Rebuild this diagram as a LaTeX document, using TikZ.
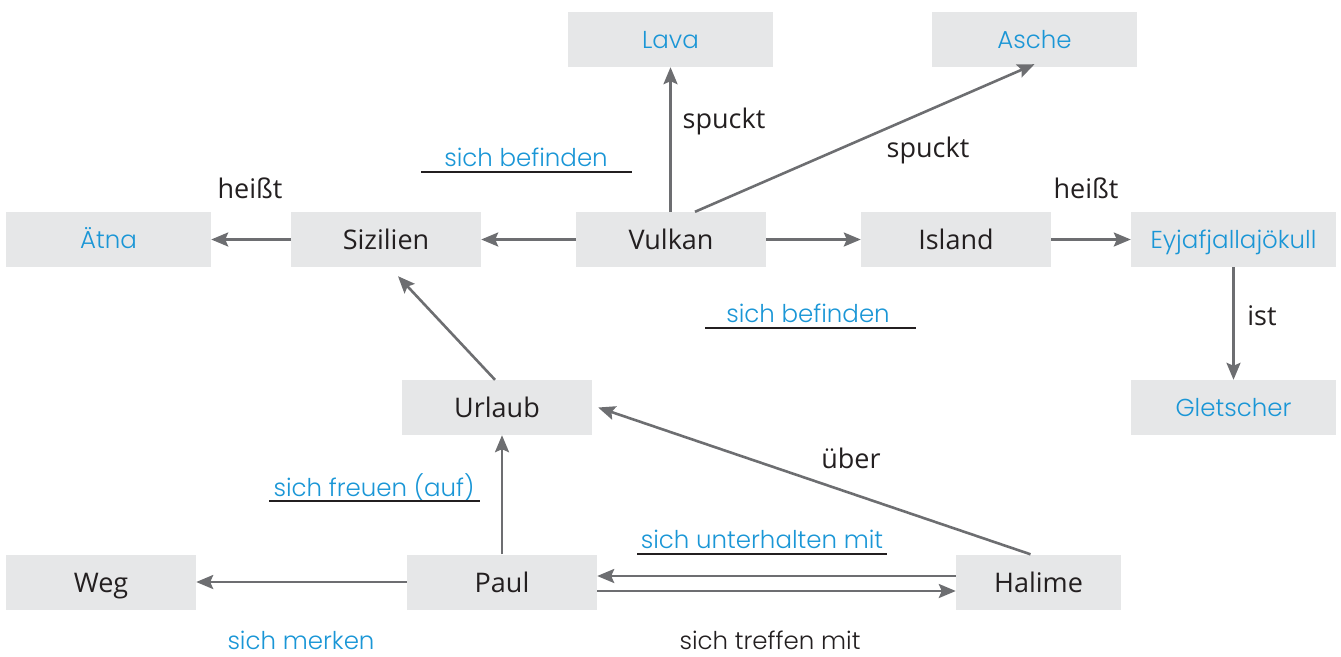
\documentclass[tikz,border=0pt]{standalone}
\usepackage{fontspec}
\setmainfont{Open Sans}
\newfontfamily\hand{Poppins}[UprightFont=* Light]
\usetikzlibrary{arrows.meta,calc}
\definecolor{boxgrey}{HTML}{E6E7E8}
\definecolor{arrgrey}{HTML}{6D6E71}
\definecolor{txtblack}{HTML}{231F20}
\definecolor{hblue}{HTML}{1A96D6}
\tikzset{
  box/.style={fill=boxgrey, inner sep=0pt, minimum height=55pt, minimum width=190pt, text height=20.5pt, text depth=0pt, text=txtblack, font=\fontsize{27}{31}\selectfont},
  bluebox/.style={box, minimum width=205pt, text height=17.5pt, text=hblue, font=\hand\fontsize{24.5}{29}\selectfont},
  conn/.style={draw=arrgrey, line width=2.6pt, -{Stealth[length=17pt,width=14pt,inset=3pt]}},
  lbl/.style={inner sep=0pt, text=txtblack, font=\fontsize{27}{31}\selectfont},
  bluelbl/.style={inner sep=0pt, text=hblue, font=\hand\fontsize{24.5}{29}\selectfont},
  handlbl/.style={inner sep=0pt, text=txtblack, font=\hand\fontsize{24.5}{29}\selectfont},
  uline/.style={draw=txtblack, line width=1.3pt}
}
\begin{document}
\begin{tikzpicture}[x=1pt,y=-1pt]
\useasboundingbox (0,0) rectangle (1341,656);
% boxes
\node[bluebox] (lava) at (670.5,39.5) {Lava};
\node[bluebox] (asche) at (1034.5,39.5) {Asche};
\node[bluebox] (aetna) at (108.5,239.5) {Ätna};
\node[box] (sizilien) at (386,239.5) {Sizilien};
\node[box] (vulkan) at (671,239.5) {Vulkan};
\node[box] (island) at (956,239.5) {Island};
\node[bluebox] (eyja) at (1233.5,239.5) {Eyjafjallajökull};
\node[bluebox] (gletscher) at (1233.5,407.5) {Gletscher};
\node[box] (urlaub) at (497,407.5) {Urlaub};
\node[box] (weg) at (101,582) {Weg};
\node[box] (paul) at (502,582) {Paul};
\node[box, minimum width=165pt] (halime) at (1038.5,582) {Halime};
% connectors
\draw[conn] (sizilien.west) -- (aetna.east);
\draw[conn] (vulkan.west) -- (sizilien.east);
\draw[conn] (vulkan.north -| lava.south) -- (lava.south);
\draw[conn] ($(vulkan.north)+(24,0)$) -- ($(asche.south)+(0,-3)$);
\draw[conn] (vulkan.east) -- (island.west);
\draw[conn] (island.east) -- (eyja.west);
\draw[conn] (eyja.south) -- (gletscher.north);
\draw[conn] ($(urlaub.north)+(-2,0)$) -- ($(sizilien.south)+(12,9)$);
\draw[conn] ($(halime.north)+(-8,0)$) -- ($(urlaub.east)+(6,0)$);
\draw[conn] (paul.north) -- (paul.north |- urlaub.south);
\draw[conn] (paul.west) -- (weg.east);
\draw[conn] ($(halime.west)+(0,-6)$) -- ($(paul.east)+(0,-6)$);
\draw[conn] ($(paul.east)+(0,9)$) -- ($(halime.west)+(0,9)$);
% labels
\node[lbl] (l1) at (250,188) {heißt};
\node[bluelbl] (l2) at (526,157) {sich befinden};
\draw[uline] (421,172) -- (632,172);
\node[lbl] (l3) at (724,121) {spuckt};
\node[lbl] (l4) at (928,150) {spuckt};
\node[lbl] (l5) at (1086,188) {heißt};
\node[bluelbl] (l6) at (808,313) {sich befinden};
\draw[uline] (705,328) -- (916,328);
\node[lbl] (l7) at (1262,316) {ist};
\node[lbl] (l8) at (851,458) {über};
\node[bluelbl] (l9) at (374,487) {sich freuen (auf)};
\draw[uline] (269,501) -- (480,501);
\node[bluelbl] (l10) at (762,539) {sich unterhalten mit};
\draw[uline] (637,554) -- (887,554);
\node[bluelbl] (l11) at (301,640) {sich merken};
\node[handlbl] (l12) at (770,640) {sich treffen mit};
\end{tikzpicture}
\end{document}
